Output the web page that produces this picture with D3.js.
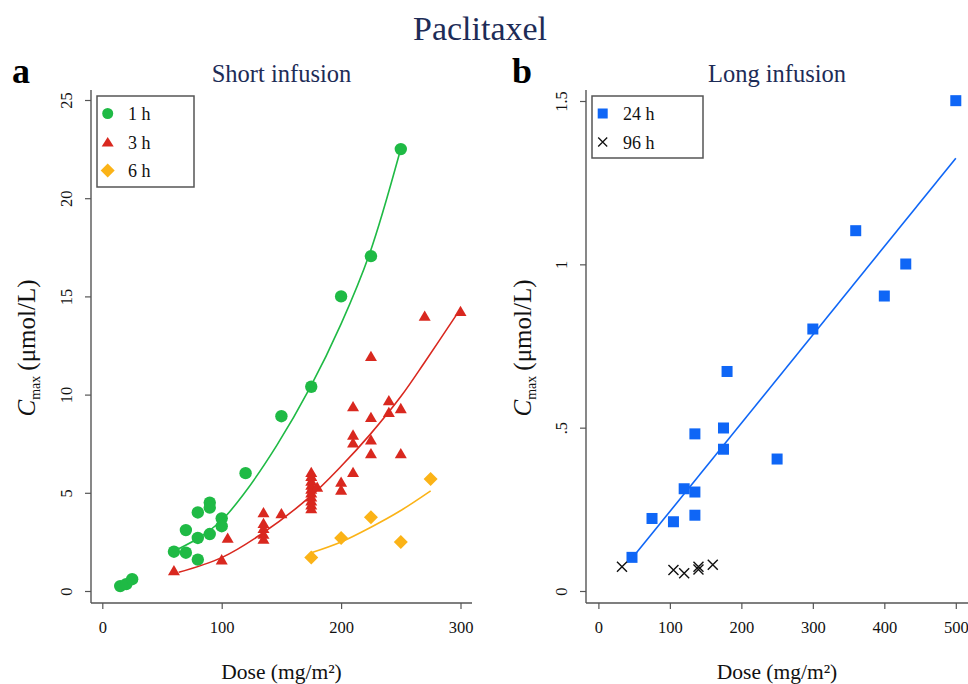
<!DOCTYPE html>
<html><head><meta charset="utf-8">
<script src="https://cdn.jsdelivr.net/npm/d3@7"></script>
<style>
body{margin:0;background:#fff;}
svg{display:block;font-family:"Liberation Serif","Times New Roman",serif;}
</style></head>
<body><svg id="c" width="968" height="684"></svg>
<script>
// ---- data (dose mg/m2, Cmax umol/L) ----
const short1h = [[15,0.25],[20,0.35],[25,0.6],[60,2.0],[70,3.1],[70,1.95],[80,4.0],[80,2.7],[80,1.6],[90,4.5],[90,4.25],[90,2.9],[100,3.7],[100,3.3],[120,6.0],[150,8.9],[175,10.4],[200,15.0],[225,17.05],[250,22.5]];
const short3h = [[60,1.05],[100,1.6],[105,2.7],[135,4.0],[135,3.45],[135,3.2],[135,2.9],[135,2.65],[150,3.95],[175,6.05],[175,5.85],[175,5.6],[175,5.4],[175,5.2],[175,5.0],[175,4.8],[175,4.6],[175,4.4],[175,4.2],[180,5.3],[200,5.55],[200,5.15],[210,6.05],[210,7.95],[210,7.55],[210,9.4],[225,11.95],[225,8.85],[225,7.7],[225,7.0],[240,9.7],[240,9.1],[250,9.3],[250,7.0],[270,14.0],[300,14.25]];
const short6h = [[175,1.7],[200,2.7],[225,3.75],[250,2.5],[275,5.7]];
const fit1h = [[64,2.15],[82,2.75],[100,3.6],[118,4.9],[146,7.4],[174,10.35],[200,13.6],[224,17.2],[249,22.3]];
const fit3h = [[64,0.95],[100,1.7],[132,2.85],[174,4.8],[200,6.35],[224,7.95],[250,9.9],[270,11.65],[297,14.1]];
const fit6h = [[175,1.95],[200,2.5],[225,3.25],[250,4.1],[275,5.1]];
const long24h = [[47,0.103],[75,0.222],[105,0.212],[120,0.313],[135,0.303],[135,0.232],[135,0.481],[175,0.499],[175,0.434],[180,0.672],[250,0.404],[300,0.802],[360,1.103],[400,0.903],[430,1.001],[500,1.501]];
const long96h = [[33,0.074],[105,0.064],[120,0.054],[140,0.074],[140,0.066],[160,0.080]];
const fit24h = [[47,0.1],[500,1.325]];
const ticksXa = [0,100,200,300];
const ticksYa = [0,5,10,15,20,25];
const ticksXb = [0,100,200,300,400,500];
const ticksYb = [0,0.5,1,1.5];
const labelsYb = ["0",".5","1","1.5"];
const legendA = ["1 h","3 h","6 h"];
const legendB = ["24 h","96 h"];

const GREEN="#1fba45", RED="#d9281f", ORANGE="#fbb317", BLUE="#0f66f6", NAVY="#1d2c57", AX="#555";
const SERIF = '"Liberation Serif", "Times New Roman", serif';
const svg = d3.select("#c");

// ---- scales ----
const xa = d3.scaleLinear().domain([0,300]).range([102.3,460.5]);
const ya = d3.scaleLinear().domain([0,25]).range([591,100]);
const xb = d3.scaleLinear().domain([0,500]).range([598.4,955.8]);
const yb = d3.scaleLinear().domain([0,1.5]).range([591,101]);

// ---- titles ----
svg.append("text").attr("x",480).attr("y",40).attr("text-anchor","middle")
  .attr("font-size",34).attr("fill",NAVY).text("Paclitaxel");
svg.append("text").attr("x",12).attr("y",83).attr("font-size",36).attr("font-weight","bold").text("a");
svg.append("text").attr("x",512).attr("y",83).attr("font-size",36).attr("font-weight","bold").text("b");
svg.append("text").attr("x",281.5).attr("y",82).attr("text-anchor","middle").attr("font-size",24.5).attr("fill",NAVY).text("Short infusion");
svg.append("text").attr("x",777).attr("y",82).attr("text-anchor","middle").attr("font-size",24.5).attr("fill",NAVY).text("Long infusion");

function panel(x, y, axX, axY, xEnd, xt, yt, ylabels, titleX){
  const g = svg.append("g");
  g.append("line").attr("x1",axX).attr("x2",axX).attr("y1",90).attr("y2",axY).attr("stroke",AX).attr("stroke-width",1.4);
  g.append("line").attr("x1",axX).attr("x2",xEnd).attr("y1",axY).attr("y2",axY).attr("stroke",AX).attr("stroke-width",1.4);
  const ax = g.append("g").attr("transform",`translate(0,${axY})`)
    .call(d3.axisBottom(x).tickValues(xt).tickSize(6).tickSizeOuter(0).tickPadding(12).tickFormat(d3.format("d")));
  const ay = g.append("g").attr("transform",`translate(${axX},0)`)
    .call(d3.axisLeft(y).tickValues(yt).tickSize(6).tickSizeOuter(0).tickFormat((d,i)=>ylabels[i]));
  [ax,ay].forEach(a=>{
    a.attr("font-family",SERIF).attr("font-size",16);
    a.select(".domain").remove();
    a.selectAll("line").attr("stroke",AX).attr("stroke-width",1.2);
    a.selectAll("text").attr("fill","#111").style("font-family",SERIF).attr("font-size",16.5);
  });
  ay.selectAll("text").attr("transform","rotate(-90)").attr("x",0).attr("y",-19).attr("dy",0).attr("text-anchor","middle");
  // y title
  const t = g.append("text").attr("transform",`translate(${titleX},348) rotate(-90)`)
    .attr("text-anchor","middle").attr("font-size",25).attr("fill","#111");
  t.append("tspan").attr("font-style","italic").text("C");
  t.append("tspan").attr("font-size",14).attr("dy",5).text("max");
  t.append("tspan").attr("dy",-5).text("\u2009(\u03bcmol/L)");
  // x title
  g.append("text").attr("x", (axX+xEnd)/2).attr("y",679).attr("text-anchor","middle")
    .attr("font-size",21.5).attr("fill","#111").text("Dose (mg/m\u00b2)");
  return g;
}

panel(xa, ya, 91, 603, 472, ticksXa, ticksYa, ticksYa.map(String), 35);
panel(xb, yb, 586, 603, 968, ticksXb, ticksYb, labelsYb, 531);

// marker helpers
const tri = "M0,-5.5L6,4.8L-6,4.8Z";
const dia = "M0,-7L7,0L0,7L-7,0Z";
function dots(data, x, y, kind, color){
  const g = svg.append("g");
  data.forEach(d=>{
    const px = x(d[0]), py = y(d[1]);
    if(kind==="circle") g.append("circle").attr("cx",px).attr("cy",py).attr("r",6.2).attr("fill",color);
    else if(kind==="tri") g.append("path").attr("d",tri).attr("transform",`translate(${px},${py})`).attr("fill",color);
    else if(kind==="dia") g.append("path").attr("d",dia).attr("transform",`translate(${px},${py})`).attr("fill",color);
    else if(kind==="sq") g.append("rect").attr("x",px-5.5).attr("y",py-5.5).attr("width",11).attr("height",11).attr("fill",color);
    else if(kind==="x") g.append("path").attr("d","M-5,-5L5,5M-5,5L5,-5").attr("transform",`translate(${px},${py})`).attr("stroke",color).attr("stroke-width",1.4).attr("fill","none");
  });
}
function fit(data, x, y, color){
  svg.append("path").datum(data)
    .attr("d", d3.line().x(d=>x(d[0])).y(d=>y(d[1])).curve(d3.curveCatmullRom.alpha(0.5)))
    .attr("fill","none").attr("stroke",color).attr("stroke-width",1.6);
}

dots(short1h, xa, ya, "circle", GREEN);
dots(short3h, xa, ya, "tri", RED);
dots(short6h, xa, ya, "dia", ORANGE);
fit(fit1h, xa, ya, GREEN);
fit(fit3h, xa, ya, RED);
fit(fit6h, xa, ya, ORANGE);

dots(long24h, xb, yb, "sq", BLUE);
dots(long96h, xb, yb, "x", "#111");
fit(fit24h, xb, yb, BLUE);

// legends
function legend(x0, y0, w, h, items){
  const g = svg.append("g");
  g.append("rect").attr("x",x0).attr("y",y0).attr("width",w).attr("height",h)
    .attr("fill","#fff").attr("stroke",AX).attr("stroke-width",1.5);
  items.forEach((it,i)=>{
    const cy = y0 + 17.5 + i*28.5;
    const mx = x0 + 10.7;
    if(it.kind==="circle") g.append("circle").attr("cx",mx).attr("cy",cy).attr("r",5.5).attr("fill",it.color);
    if(it.kind==="tri") g.append("path").attr("d","M0,-5L6,4.5L-6,4.5Z").attr("transform",`translate(${mx},${cy})`).attr("fill",it.color);
    if(it.kind==="dia") g.append("path").attr("d",dia).attr("transform",`translate(${mx},${cy})`).attr("fill",it.color);
    if(it.kind==="sq") g.append("rect").attr("x",mx-5).attr("y",cy-5).attr("width",10).attr("height",10).attr("fill",it.color);
    if(it.kind==="x") g.append("path").attr("d","M-4.5,-4.5L4.5,4.5M-4.5,4.5L4.5,-4.5").attr("transform",`translate(${mx},${cy})`).attr("stroke","#111").attr("stroke-width",1.3);
    g.append("text").attr("x",x0+31).attr("y",cy+6.5).attr("font-size",18).attr("fill","#111").text(it.label);
  });
}
legend(97, 96, 97, 91, [
  {kind:"circle",color:GREEN,label:legendA[0]},
  {kind:"tri",color:RED,label:legendA[1]},
  {kind:"dia",color:ORANGE,label:legendA[2]}]);
legend(592, 96, 111, 62, [
  {kind:"sq",color:BLUE,label:legendB[0]},
  {kind:"x",color:"#111",label:legendB[1]}]);
</script></body></html>
